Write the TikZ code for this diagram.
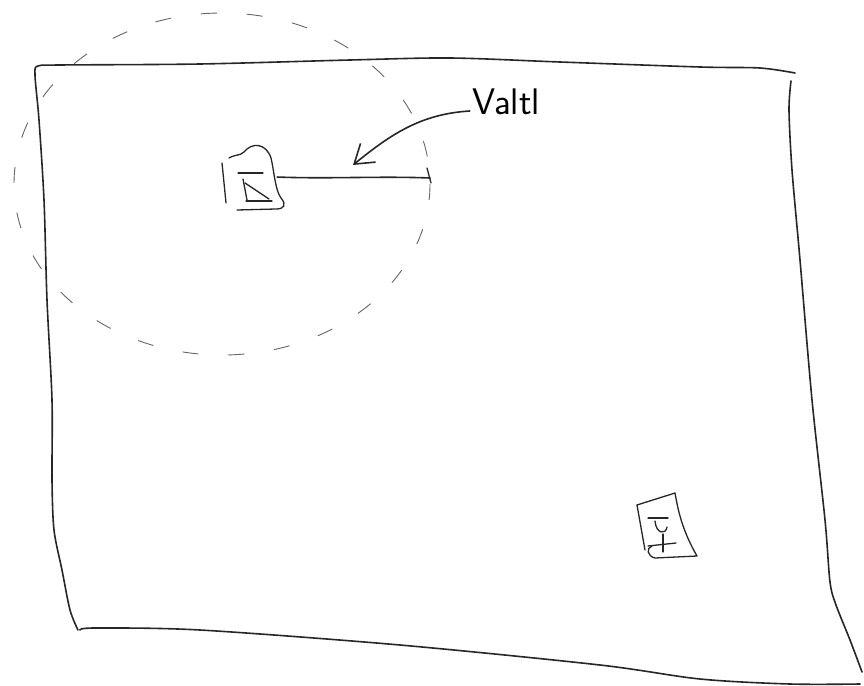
\documentclass[tikz,border=0pt]{standalone}
\usetikzlibrary{arrows.meta}
\begin{document}
\begin{tikzpicture}[x=1pt,y=-1pt,
  pen/.style={line width=1.6pt,line cap=round,line join=round,black!85},
  thinpen/.style={line width=1.3pt,line cap=round,line join=round,black!85},
  guide/.style={line width=0.9pt,black!60,dash pattern=on 16pt off 30pt},
  lbl/.style={font=\sffamily\fontsize{37}{40}\selectfont,inner sep=0pt}]
\useasboundingbox (0,0) rectangle (864,685);
% dashed reach circle
\draw[guide] (222,184) ellipse [x radius=208, y radius=171];
% frame
\draw[pen] plot[smooth,tension=0.5] coordinates {(78,630) (70,610) (62,570) (54,530) (52,480) (52,400) (47,300) (44,200) (39,120) (35,75) (38,66) (60,65) (200,64) (350,60) (450,58) (560,62) (700,67) (760,68) (795,73)};
\draw[pen] plot[smooth,tension=0.5] coordinates {(791,81) (789,110) (792,170) (800,260) (812,400) (825,520) (830,582) (836,605) (850,640) (862,672)};
\draw[pen] plot[smooth,tension=0.5] coordinates {(80,630) (95,628) (200,630) (400,645) (600,665) (700,679) (790,684) (860,684)};
% hourglass box
\node[inner sep=0pt,minimum size=2pt] (hg) at (276,177) {};
\draw[thinpen] (222,163) -- (226,203);
\draw[thinpen] (229,158) .. controls (236,154) and (240,156) .. (244,152) .. controls (252,142) and (266,143) .. (271,158) .. controls (274,170) and (275,190) .. (281,198) .. controls (287,205) and (284,209) .. (276,209) -- (237,210);
\draw[thinpen] (238,173) -- (263,173);
\draw[thinpen] (243,179) -- (247,200);
\draw[thinpen] (245,183) -- (269,199);
\draw[thinpen] (246,201) -- (272,201);
% radius line
\coordinate (rim) at (430,178);
\draw[pen] (hg) .. controls (330,179) and (380,176) .. (rim);
\draw[thinpen] (427,168) -- (431,183);
% label and arrow
\node[lbl] (valtl) at (506,102) {Valtl};
\coordinate (tip) at (353,165);
\draw[pen,-{Straight Barb[length=18pt,width=24pt]}] (valtl.west) ++(-2,9) .. controls (420,114) and (390,135) .. (tip);
% second box (glass)
\node[inner sep=0pt] (glass) at (665,528) {};
\draw[thinpen] (637,505) -- (675,493) .. controls (678,510) and (682,530) .. (697,556) -- (655,558) .. controls (647,556) and (646,548) .. (652,546);
\draw[thinpen] (637,505) -- (645,550);
\draw[thinpen] (648,518) -- (668,518);
\draw[thinpen] (655,521) .. controls (656,534) and (666,535) .. (667,527);
\draw[thinpen] (663,534) -- (663,552);
\draw[thinpen] (648,546) -- (676,543);
\end{tikzpicture}
\end{document}
